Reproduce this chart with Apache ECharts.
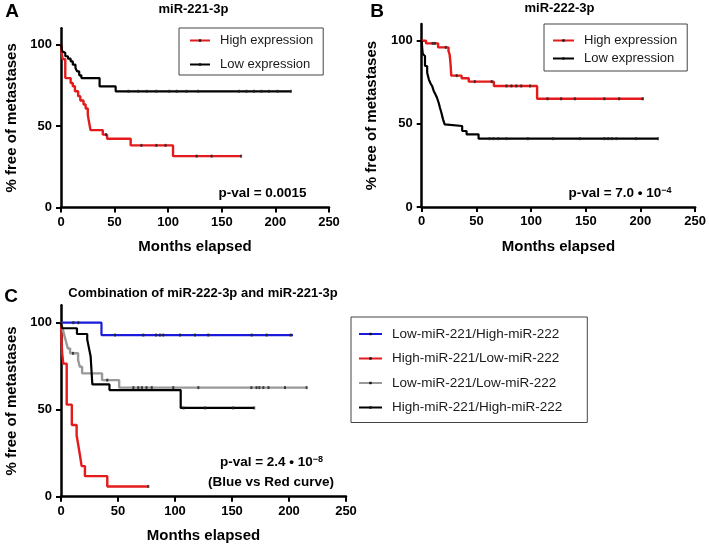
<!DOCTYPE html>
<html><head><meta charset="utf-8">
<script src="https://cdn.jsdelivr.net/npm/echarts@6/dist/echarts.min.js"></script>
<style>html,body{margin:0;padding:0;background:#fff}#c{width:709px;height:550px}</style>
</head><body><div id="c"></div>
<script>
// ---------- data ----------
const xTicks = [0, 50, 100, 150, 200, 250];
const yTicks = [0, 50, 100];

// Panel A : miR-221-3p
const aHighT = [0, 0.5, 1.5, 4, 9, 11, 13, 16, 18, 21, 23, 25, 26, 27.5, 39, 43, 65, 104.5, 168];
const aHighS = [100, 95, 91, 79.4, 76.4, 74.4, 71.3, 68.3, 65.6, 63.2, 60.7, 57, 53, 47.5, 44.7, 42.2, 38.1, 31.5, 31.5];
const aHighCens = [42, 75, 89, 97.5, 126.5, 140.5, 168];
const aLowT = [0, 1, 2, 4, 6.5, 9, 11, 13.5, 15, 17, 19, 36, 51, 214.5];
const aLowS = [100, 96, 94.8, 92.8, 91.3, 89.7, 87.6, 85.6, 83.5, 81.1, 79.4, 74.3, 71.3, 71.3];
const aLowCens = [63, 72, 80, 89, 101, 108, 117, 128, 166, 173, 180, 187, 194, 202, 214.5];

// Panel B : miR-222-3p
const bHighT = [0, 4, 15, 24.5, 25.5, 26, 26.5, 27, 36.5, 43, 66, 105.5, 203];
const bHighS = [100, 98.4, 96, 93.8, 91.8, 88.8, 84.8, 79, 77.4, 75.4, 72.8, 65.1, 65.1];
const bHighCens = [10, 12, 22, 32, 48.5, 64, 77.5, 82, 86.5, 91, 99, 115, 127.5, 140, 167, 180.5, 202];
const bLowT = [0, 0.5, 1, 2, 3, 5, 6.5, 8, 9.5, 11, 12.5, 14, 15.5, 16.7, 18, 19.5, 21, 22.5, 37, 41, 52, 216];
const bLowS = [100, 95, 92, 90.8, 84.8, 80.8, 76.8, 74.4, 72.8, 69.8, 67.8, 65.7, 62.7, 59.7, 56.7, 52.7, 49.7, 48.7, 45.7, 43.7, 41.1, 41.1];
const bLowCens = [62, 65.5, 70, 77.5, 97, 120, 144.5, 167, 170.5, 174, 178, 196, 216];

// Panel C : combination
const cBlueT = [0, 35.5, 203.5];
const cBlueS = [100, 92.9, 92.9];
const cBlueCens = [10.8, 15.2, 47.4, 72.2, 83.3, 86.8, 89.7, 104.4, 117.5, 129.2, 167.3, 180.4, 201.5];
const cRedT = [0, 0.3, 0.6, 1, 2, 5, 9.5, 13.7, 15.2, 16.7, 18.1, 21, 40.6, 76.6];
const cRedS = [100, 94.1, 88.2, 82.4, 76.5, 52.9, 41.2, 35.3, 29.4, 23.5, 17.6, 11.8, 5.9, 5.9];
const cRedCens = [76.6];
const cGrayT = [0, 1.5, 3, 4.5, 6, 8, 15, 16.5, 18.5, 36, 51, 215.5];
const cGrayS = [100, 96.3, 92.6, 88.9, 85.2, 82.4, 78.6, 74.7, 70.9, 67, 62.7, 62.7];
const cGrayCens = [10.5, 40.6, 63.5, 67.8, 71, 75, 79.6, 98.5, 120.5, 167, 171.5, 174, 177.5, 182, 196.5, 215.5];
const cBlackT = [0, 1, 14, 23, 24, 25, 26, 27.5, 42.5, 105, 169.5];
const cBlackS = [100, 96.8, 93.5, 90.3, 87.1, 83.9, 80.6, 64.5, 61.3, 51, 51];
const cBlackCens = [107.5, 126.5, 151, 169.5];

const legendAB = ['High expression', 'Low expression'];
const legendC = ['Low-miR-221/High-miR-222', 'High-miR-221/Low-miR-222', 'Low-miR-221/Low-miR-222', 'High-miR-221/High-miR-222'];

// ---------- helpers ----------
const FONT = 'Liberation Sans, Arial, Helvetica, sans-serif';
function survAt(T, S, t) { let v = S[0]; for (let i = 0; i < T.length; i++) { if (T[i] <= t) v = S[i]; } return v; }
function km(name, T, S, color, idx, width) {
  return {
    name: name, type: 'line', step: 'end', xAxisIndex: idx, yAxisIndex: idx,
    data: T.map((t, i) => [t, S[i]]),
    symbol: 'rect', symbolSize: [3, 3], showSymbol: false,
    itemStyle: { color: '#111' },
    lineStyle: { color: color, width: width || 2.2 },
    animation: false, z: 3
  };
}
function cens(T, S, C, idx) {
  return {
    type: 'scatter', xAxisIndex: idx, yAxisIndex: idx, silent: true,
    data: C.map(t => [t, survAt(T, S, t)]),
    symbol: 'rect', symbolSize: [2, 3], itemStyle: { color: '#222' },
    animation: false, z: 5
  };
}
function xAx(idx) {
  return {
    gridIndex: idx, type: 'value', min: 0, max: 250, interval: 50,
    name: 'Months elapsed', nameLocation: 'middle', nameGap: 32,
    nameTextStyle: { fontFamily: FONT, fontWeight: 'bold', fontSize: 15, color: '#000' },
    axisLine: { show: true, lineStyle: { color: '#000', width: 2.5 } },
    axisTick: { show: true, length: 5, lineStyle: { color: '#000', width: 2 }, customValues: xTicks },
    axisLabel: { fontFamily: FONT, fontWeight: 'bold', fontSize: 13, color: '#000', margin: 8, customValues: xTicks },
    splitLine: { show: false }
  };
}
function yAx(idx) {
  return {
    gridIndex: idx, type: 'value', min: 0, max: 110,
    name: '% free of metastases', nameLocation: 'middle', nameGap: 42, nameRotate: 90,
    nameTextStyle: { fontFamily: FONT, fontWeight: 'bold', fontSize: 15, color: '#000' },
    axisLine: { show: true, lineStyle: { color: '#000', width: 2.5 } },
    axisTick: { show: true, length: 5, lineStyle: { color: '#000', width: 2 }, customValues: yTicks },
    axisLabel: { fontFamily: FONT, fontWeight: 'bold', fontSize: 13, color: '#000', margin: 9, customValues: yTicks },
    splitLine: { show: false }
  };
}
function legend(data, left, top, pad, gap, iw, fs) {
  return {
    data: data, orient: 'vertical', left: left, top: top, padding: pad, itemGap: gap,
    itemWidth: iw, itemHeight: 3, borderColor: '#444', borderWidth: 1, backgroundColor: '#fff',
    selectedMode: false,
    textStyle: { fontFamily: FONT, fontSize: fs, color: '#1a1a1a', padding: [0, 0, 0, 5] }
  };
}
function txt(x, y, text, size, weight, align, rich) {
  const st = { text: text, x: 0, y: 0, fill: '#000', align: align || 'center', verticalAlign: 'middle',
    font: (weight || 'bold') + ' ' + size + 'px ' + FONT };
  if (rich) st.rich = rich;
  return { type: 'text', x: x, y: y, style: st, z: 10 };
}
const supRich = {
  b: { fontFamily: FONT, fontWeight: 'bold', fontSize: 13.5, fill: '#000', color: '#000' },
  s: { fontFamily: FONT, fontWeight: 'bold', fontSize: 9, fill: '#000', color: '#000', verticalAlign: 'top' }
};

const chart = echarts.init(document.getElementById('c'), null, { renderer: 'canvas' });
chart.setOption({
  backgroundColor: '#fff',
  animation: false,
  grid: [
    { left: 61, top: 28.2, width: 268, height: 179.3 },
    { left: 421.7, top: 24.1, width: 274, height: 182.9 },
    { left: 61, top: 305.3, width: 285, height: 191.4 }
  ],
  xAxis: [xAx(0), xAx(1), xAx(2)],
  yAxis: [yAx(0), yAx(1), yAx(2)],
  legend: [
    legend(legendAB, 179, 28, [6, 10, 4, 10], 11, 20, 13),
    legend(legendAB, 544, 24, [10, 10, 6, 8], 5, 21, 13),
    legend(legendC, 351, 317, [10, 25, 8, 7], 10.5, 23, 13.5)
  ],
  series: [
    km('High expression', aHighT, aHighS, '#e41a1c', 0, 2.4),
    km('Low expression', aLowT, aLowS, '#000000', 0),
    cens(aHighT, aHighS, aHighCens, 0),
    cens(aLowT, aLowS, aLowCens, 0),
    km('High expression', bHighT, bHighS, '#e41a1c', 1, 2.4),
    km('Low expression', bLowT, bLowS, '#000000', 1),
    cens(bHighT, bHighS, bHighCens, 1),
    cens(bLowT, bLowS, bLowCens, 1),
    km('Low-miR-221/High-miR-222', cBlueT, cBlueS, '#1a1adc', 2),
    km('High-miR-221/Low-miR-222', cRedT, cRedS, '#e41a1c', 2, 2.4),
    km('Low-miR-221/Low-miR-222', cGrayT, cGrayS, '#999999', 2, 2.4),
    km('High-miR-221/High-miR-222', cBlackT, cBlackS, '#000000', 2),
    cens(cBlueT, cBlueS, cBlueCens, 2),
    cens(cRedT, cRedS, cRedCens, 2),
    cens(cGrayT, cGrayS, cGrayCens, 2),
    cens(cBlackT, cBlackS, cBlackCens, 2)
  ],
  graphic: [
    txt(12, 12, 'A', 19, 'bold'),
    txt(377, 12, 'B', 19, 'bold'),
    txt(11, 297, 'C', 19, 'bold'),
    txt(193.5, 9, 'miR-221-3p', 13, 'bold'),
    txt(559.5, 8.5, 'miR-222-3p', 13, 'bold'),
    txt(203, 293, 'Combination of miR-222-3p and miR-221-3p', 13, 'bold'),
    txt(262.5, 193, 'p-val = 0.0015', 13.5, 'bold'),
    txt(620, 193, '{b|p-val = 7.0 • 10}{s|−4}', 13.5, 'bold', 'center', supRich),
    txt(271.5, 462, '{b|p-val = 2.4 • 10}{s|−8}', 13.5, 'bold', 'center', supRich),
    txt(271, 482, '(Blue vs Red curve)', 13.5, 'bold')
  ]
});
</script>
</body></html>
